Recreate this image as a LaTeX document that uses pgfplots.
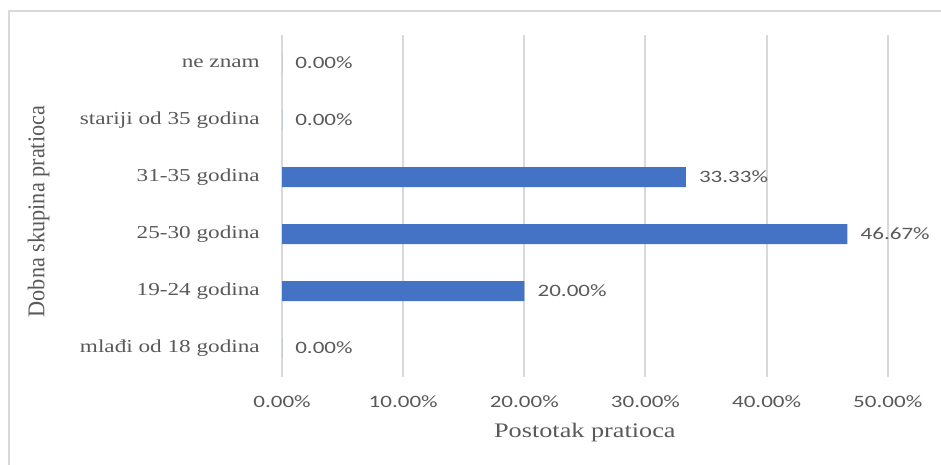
\documentclass[border=0pt]{standalone}
\usepackage{graphicx}
\usepackage{fontspec}
\usepackage{pgfplots}
\pgfplotsset{compat=1.18}
\setmainfont{Liberation Serif}
\newfontfamily\catfont[FakeStretch=1.27]{Liberation Serif}
\newfontfamily\titlefont[FakeStretch=1.27]{Liberation Serif}
\newfontfamily\numfont[FakeStretch=1.33]{Carlito}
\definecolor{barblue}{HTML}{4472C4}
\definecolor{txtgray}{HTML}{595959}
\definecolor{gridgray}{HTML}{D9D9D9}

\begin{document}
\begin{tikzpicture}
\useasboundingbox (0,0) rectangle (705.75pt,348pt);
% outer chart frame (right and bottom edges lie outside the picture)
\draw[gridgray, line width=1.6pt] (6.6pt,-5pt) -- (6.6pt,339.75pt) -- (720pt,339.75pt);
\begin{axis}[
    at={(211.5pt,65.625pt)}, anchor=south west,
    scale only axis,
    width=454.3pt, height=256.5pt,
    xbar, bar width=15pt,
    xmin=0, xmax=50,
    ymin=-0.5, ymax=5.5,
    xtick={0,10,...,50},
    ytick={0,...,5},
    yticklabels={mlađi od 18 godina, 19-24 godina, 25-30 godina, 31-35 godina, stariji od 35 godina, ne znam},
    xticklabel={\pgfmathprintnumber[fixed,fixed zerofill,precision=2]{\tick}\%},
    /pgf/number format/assume math mode=true,
    axis line style={draw=none},
    major tick length=0pt,
    xmajorgrids,
    major grid style={gridgray, line width=1.5pt},
    xticklabel style={anchor=base, yshift=-23.25pt, font=\numfont\fontsize{13}{15}\selectfont, text=txtgray},
    yticklabel style={anchor=east, inner sep=0pt, xshift=-16.5pt, font=\catfont\fontsize{13.7}{16}\selectfont, text=txtgray},
    xlabel={\titlefont\fontsize{15.5}{18}\selectfont Postotak pratioca},
    xlabel style={at={(axis description cs:0.5,0)}, anchor=base, yshift=-45.75pt, text=txtgray},
    ylabel={\scalebox{1}[1.08]{\fontsize{16.7}{19}\selectfont Dobna skupina pratioca}},
    ylabel style={at={(axis description cs:-0.3924,0.4825)}, anchor=base, rotate=0, text=txtgray},
    nodes near coords={\pgfmathprintnumber[fixed,fixed zerofill,precision=2]{\pgfplotspointmeta}\%},
    point meta=x,
    nodes near coords style={anchor=west, inner sep=0pt, xshift=9.75pt, font=\numfont\fontsize{13}{15}\selectfont, text=txtgray},
    clip=false,
]
\addplot[fill=barblue, draw=none] coordinates {
    (0,0)
    (20,1)
    (46.67,2)
    (33.33,3)
    (0,4)
    (0,5)
};
\end{axis}
\end{tikzpicture}
\end{document}
